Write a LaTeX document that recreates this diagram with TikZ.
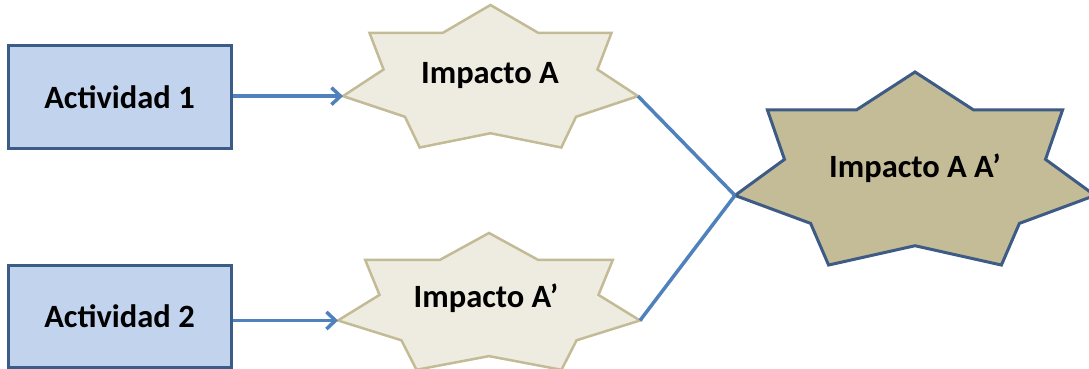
\documentclass[tikz,border=0pt]{standalone}
\usepackage{fontspec}
\setmainfont{Carlito}
\usetikzlibrary{arrows.meta}
\definecolor{boxfill}{HTML}{C2D3EE}
\definecolor{boxline}{HTML}{3B5C86}
\definecolor{starfill}{HTML}{EEECE1}
\definecolor{starline}{HTML}{C2BB96}
\definecolor{bigfill}{HTML}{C4BC96}
\definecolor{bigline}{HTML}{3D5B84}
\definecolor{conn}{HTML}{4F81BD}
\tikzset{
  actbox/.style={draw=boxline, fill=boxfill, line width=3pt, minimum width=223pt, minimum height=102pt, inner sep=0pt, font=\fontsize{32.5}{38}\selectfont\bfseries},
  lbl/.style={anchor=base, inner sep=0pt, font=\fontsize{32.5}{38}\selectfont\bfseries},
  smallstar/.style={draw=starline, fill=starfill, line width=2.5pt, line join=miter},
  bigstar/.style={draw=bigline, fill=bigfill, line width=3pt, line join=miter},
  conline/.style={draw=conn, line width=3.5pt},
  conarrow/.style={conline, -{Straight Barb[length=9pt,width=17pt]}}
}
% #1 name, #2 cx, #3 cy, #4 rx, #5 ry, #6 style
\newcommand{\sevenstar}[6]{%
  \begin{scope}[shift={(#2,#3)}, xscale=#4, yscale=#5]
    \path[#6] (0,-1) -- (0.325,-0.627) -- (0.82,-0.627) -- (0.725,-0.14) -- (1,0.215)
      -- (0.58,0.49) -- (0.48,0.90) -- (0,0.71) -- (-0.48,0.90) -- (-0.58,0.49)
      -- (-1,0.215) -- (-0.725,-0.14) -- (-0.82,-0.627) -- (-0.325,-0.627) -- cycle;
    \coordinate (#1-l) at (-1,0.215);
    \coordinate (#1-r) at (1,0.215);
  \end{scope}}
\begin{document}
\begin{tikzpicture}[x=1pt,y=-1pt]
  \useasboundingbox (0,0) rectangle (1089,369);
  \clip (0,0) rectangle (1089,369);
  \fill[white] (0,0) rectangle (1089,369);

  \node[actbox] (act1) at (119.5,97) {Actividad 1};
  \node[actbox] (act2) at (119.5,316) {Actividad 2};

  \sevenstar{sA}{490.5}{80}{147.5}{75}{smallstar}
  \sevenstar{sB}{489}{305}{151}{72}{smallstar}
  \sevenstar{sC}{915}{173.6}{180}{101.6}{bigstar}

  \node[lbl] (tA) at (490,83) {Impacto A};
  \node[lbl] (tB) at (486,307) {Impacto A’};
  \node[lbl] (tC) at (915,177) {Impacto A A’};

  \draw[conarrow] (act1.east |- sA-l) -- (sA-l);
  \draw[conarrow] (act2.east |- sB-l) -- (sB-l);
  \draw[conline] (sA-r) -- (sC-l);
  \draw[conline] (sB-r) -- (sC-l);
\end{tikzpicture}
\end{document}
